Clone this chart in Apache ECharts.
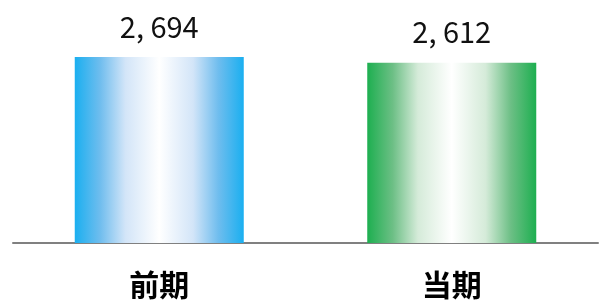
<!DOCTYPE html>
<html>
<head>
<meta charset="utf-8">
<script src="https://cdn.jsdelivr.net/npm/echarts@6/dist/echarts.min.js"></script>
<style>
  html, body { margin: 0; padding: 0; background: #fff; }
  #container-bar { width: 603px; height: 302px; }
</style>
</head>
<body>
<div id="container-bar"></div>
<script>
var categories = ['前期', '当期'];
var values = [2694, 2612];
var edgeColors = ['#1AAFF0', '#1DAF50'];
var midColors = [['#6FBDEE', '#D3E5F8'], ['#6CBF85', '#D5EBD9']];

function barGradient(i) {
  return new echarts.graphic.LinearGradient(0, 0, 1, 0, [
    {offset: 0, color: edgeColors[i]},
    {offset: 0.15, color: midColors[i][0]},
    {offset: 0.3, color: midColors[i][1]},
    {offset: 0.5, color: '#FFFFFF'},
    {offset: 0.7, color: midColors[i][1]},
    {offset: 0.85, color: midColors[i][0]},
    {offset: 1, color: edgeColors[i]}
  ]);
}

var dom = document.getElementById('container-bar');
var myChart = echarts.init(dom);
var option = {
  animation: false,
  grid: {left: 13, right: 5, top: 36, height: 207},
  xAxis: {
    type: 'category',
    data: categories,
    axisLine: {lineStyle: {color: '#808080', width: 2}},
    axisTick: {show: false},
    axisLabel: {
      margin: 27,
      fontSize: 30,
      fontWeight: 'bold',
      color: '#000',
      fontFamily: 'Noto Sans CJK JP'
    }
  },
  yAxis: {
    type: 'value',
    min: 0,
    max: 3000,
    show: false
  },
  series: [{
    type: 'bar',
    barWidth: 169,
    data: values.map(function (v, i) {
      return {value: v, itemStyle: {color: barGradient(i)}};
    }),
    label: {
      show: true,
      position: 'top',
      distance: 16,
      fontSize: 29,
      color: '#111',
      fontFamily: 'Noto Sans CJK JP',
      formatter: function (p) { return p.value.toLocaleString('en-US').replace(',', ', '); }
    }
  }]
};
myChart.setOption(option, true);
</script>
</body>
</html>
